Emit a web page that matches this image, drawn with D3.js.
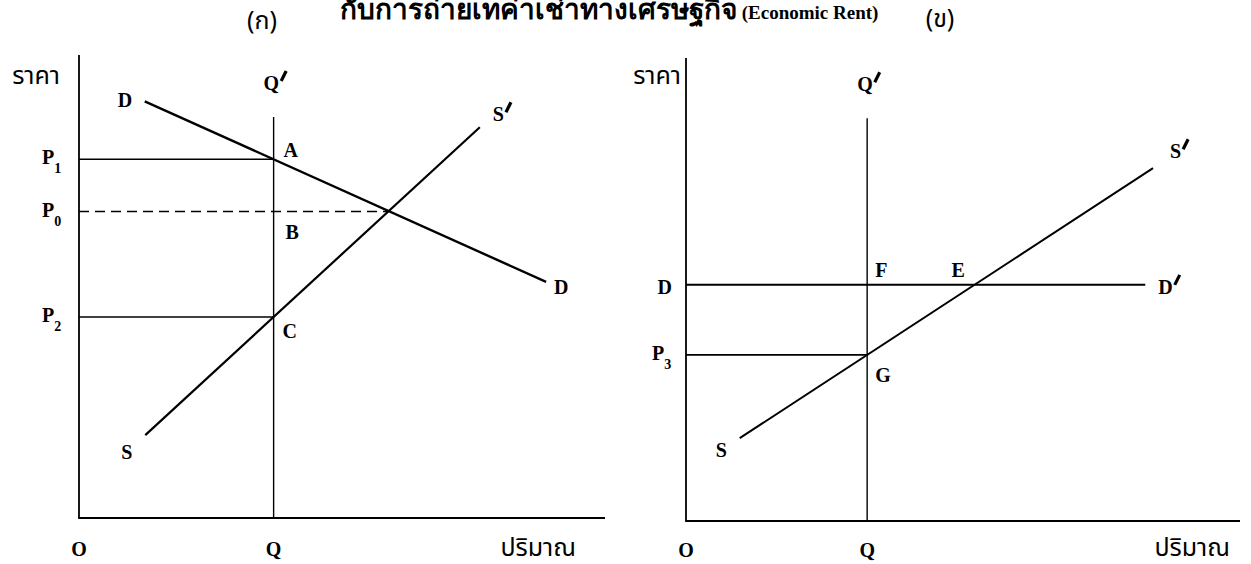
<!DOCTYPE html>
<html>
<head>
<meta charset="utf-8">
<script src="https://cdn.jsdelivr.net/npm/d3@7"></script>
<style>
  body { margin: 0; background: #fff; }
  svg text { fill: #000; }
  .lbl { font-family: "Liberation Serif", "Times New roman", serif; font-weight: bold; font-size: 20px; }
  .sub { font-size: 14px; }
  .th { font-family: "Noto Sans Thai", "Loma", "Garuda", "Noto Sans", sans-serif; font-size: 25px; }
  .title { font-family: "Liberation Serif", serif; font-weight: bold; }
</style>
</head>
<body>
<svg id="chart" width="1251" height="564"></svg>
<script>
// ---- data (abstract units, 0..100 on both axes of each panel) ----
const TITLE_TH = "กับการถ่ายเทค่าเช่าทางเศรษฐกิจ";
const TITLE_EN = " (Economic Rent)";

// panel (ก)
const leftQ = 37;                                   // fixed quantity Q
const leftPrices = { P1: 77.5, P0: 66.2, P2: 43.4 };
const leftDemand = [[12.5, 90], [88.8, 51]];        // D ... D
const leftSupply = [[12.6, 17.9], [76.2, 84.4]];    // S ... S'
const leftQTop = 86.6;

// panel (ข)
const rightQ = 32.7;
const rightD = 51;                                  // horizontal D ... D'
const rightDEnd = 82.9;
const rightP3 = 35.9;
const rightSupply = [[9.7, 17.9], [84.3, 76.2]];
const rightQTop = 87;

const svg = d3.select("#chart");

// title, its top is cut off by the scan edge
const title = svg.append("text").attr("class", "title")
  .attr("x", 340).attr("y", 19);
title.append("tspan").style("font-size", "28px").text(TITLE_TH);
title.append("tspan").style("font-size", "19px").text(TITLE_EN);

// helper: bold letter with optional subscript / prime
function label(x, y, main, opts = {}) {
  const t = svg.append("text").attr("class", "lbl")
    .attr("x", x).attr("y", y)
    .attr("text-anchor", opts.anchor || "start");
  t.append("tspan").text(main);
  if (opts.sub) t.append("tspan").attr("class", "sub").attr("dy", 9).text(opts.sub);
  if (opts.prime) {
    // thick slanted prime mark like the printed figure
    const b = t.node().getBBox();
    svg.append("path")
      .attr("d", `M${b.x + b.width + 2},${b.y + 9}L${b.x + b.width + 7},${b.y - 1}`)
      .attr("stroke", "#000").attr("stroke-width", 3.2);
  }
  return t;
}

function line(g, pts, x, y, w, dash) {
  g.append("path")
    .datum(pts)
    .attr("d", d3.line().x(d => x(d[0])).y(d => y(d[1])))
    .attr("fill", "none")
    .attr("stroke", "#000")
    .attr("stroke-width", w)
    .attr("stroke-dasharray", dash || null);
}

// ---------------- panel (ก) ----------------
{
  const x = d3.scaleLinear().domain([0, 100]).range([79, 605]);
  const y = d3.scaleLinear().domain([0, 100]).range([518, 55]);
  const g = svg.append("g");

  // axes
  line(g, [[0, 100], [0, 0], [100, 0]], x, y, 1.8);
  // vertical Q-Q'
  line(g, [[leftQ, 0], [leftQ, leftQTop]], x, y, 1.4);
  // price lines
  line(g, [[0, leftPrices.P1], [leftQ, leftPrices.P1]], x, y, 1.6);
  line(g, [[0, leftPrices.P2], [leftQ, leftPrices.P2]], x, y, 1.6);
  // P0 dashed to the equilibrium
  const dSlope = (leftDemand[1][1] - leftDemand[0][1]) / (leftDemand[1][0] - leftDemand[0][0]);
  const qEq = leftDemand[0][0] + (leftPrices.P0 - leftDemand[0][1]) / dSlope;
  line(g, [[0, leftPrices.P0], [qEq, leftPrices.P0]], x, y, 1.6, "10,6");
  // curves
  line(g, leftDemand, x, y, 2.4);
  line(g, leftSupply, x, y, 2.2);

  // labels
  svg.append("text").attr("class", "th").attr("x", 60).attr("y", 84).attr("text-anchor", "end").text("ราคา");
  svg.append("text").attr("class", "th").attr("x", 262).attr("y", 29).attr("text-anchor", "middle").text("(ก)");
  label(42, y(leftPrices.P1) + 5, "P", { sub: "1" });
  label(42, y(leftPrices.P0) + 6, "P", { sub: "0" });
  label(42, y(leftPrices.P2) + 5, "P", { sub: "2" });
  label(x(leftQ) - 10, y(leftQTop) - 27, "Q", { prime: true });
  label(x(leftQ) + 10, y(leftPrices.P1) - 2, "A");
  label(x(leftQ) + 12, y(leftPrices.P0) + 28, "B");
  label(x(leftQ) + 9, y(leftPrices.P2) + 21, "C");
  label(x(leftDemand[0][0]) - 27, y(leftDemand[0][1]) + 6, "D");
  label(x(leftDemand[1][0]) + 8, y(leftDemand[1][1]) + 12, "D");
  label(x(leftSupply[0][0]) - 24, y(leftSupply[0][1]) + 24, "S");
  label(x(leftSupply[1][0]) + 13, y(leftSupply[1][1]) - 6, "S", { prime: true });
  label(x(0), 556, "O", { anchor: "middle" });
  label(x(leftQ), 556, "Q", { anchor: "middle" });
  svg.append("text").attr("class", "th").attr("x", 576).attr("y", 556).attr("text-anchor", "end").text("ปริมาณ");
}

// ---------------- panel (ข) ----------------
{
  const x = d3.scaleLinear().domain([0, 100]).range([686, 1240]);
  const y = d3.scaleLinear().domain([0, 100]).range([521, 58]);
  const g = svg.append("g");

  line(g, [[0, 100], [0, 0], [100, 0]], x, y, 1.8);
  line(g, [[rightQ, 0], [rightQ, rightQTop]], x, y, 1.4);
  line(g, [[0, rightD], [rightDEnd, rightD]], x, y, 2);
  line(g, [[0, rightP3], [rightQ, rightP3]], x, y, 1.8);
  line(g, rightSupply, x, y, 2);

  const sSlope = (rightSupply[1][1] - rightSupply[0][1]) / (rightSupply[1][0] - rightSupply[0][0]);
  const qE = rightSupply[0][0] + (rightD - rightSupply[0][1]) / sSlope;

  svg.append("text").attr("class", "th").attr("x", 681).attr("y", 84).attr("text-anchor", "end").text("ราคา");
  svg.append("text").attr("class", "th").attr("x", 940).attr("y", 27).attr("text-anchor", "middle").text("(ข)");
  label(x(0) - 14, y(rightD) + 9, "D", { anchor: "end" });
  label(652, y(rightP3) + 5, "P", { sub: "3" });
  label(x(rightQ) - 10, y(rightQTop) - 27, "Q", { prime: true });
  label(x(rightQ) + 8, y(rightD) - 8, "F");
  label(x(qE) - 23, y(rightD) - 8, "E");
  label(x(rightQ) + 8, y(rightP3) + 27, "G");
  label(x(rightDEnd) + 13, y(rightD) + 9, "D", { prime: true });
  label(x(rightSupply[0][0]) - 24, y(rightSupply[0][1]) + 19, "S");
  label(x(rightSupply[1][0]) + 17, y(rightSupply[1][1]) - 10, "S", { prime: true });
  label(x(0), 557, "O", { anchor: "middle" });
  label(x(rightQ), 557, "Q", { anchor: "middle" });
  svg.append("text").attr("class", "th").attr("x", 1230).attr("y", 556).attr("text-anchor", "end").text("ปริมาณ");
}
</script>
</body>
</html>
